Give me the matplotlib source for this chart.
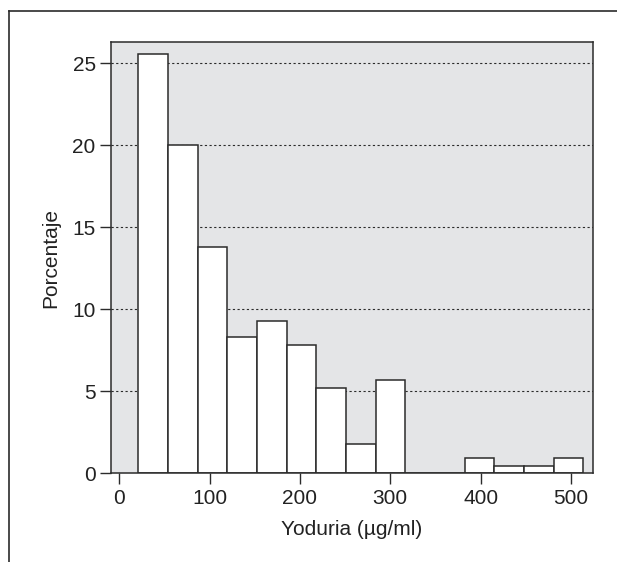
import matplotlib
matplotlib.use("Agg")
import matplotlib.pyplot as plt
from matplotlib.lines import Line2D
import numpy as np

# Histogram data (percent per bin)
bin_edges = np.linspace(21.4, 513.6, 16)
percent = [25.55, 20.0, 13.82, 8.29, 9.27, 7.80, 5.20, 1.79, 5.69,
           0.0, 0.0, 0.95, 0.46, 0.46, 0.95]
x_ticks = [0, 100, 200, 300, 400, 500]
y_ticks = [0, 5, 10, 15, 20, 25]

plt.rcParams["font.family"] = ["Liberation Sans", "DejaVu Sans"]
DARK = "#2b2b2b"

fig = plt.figure(figsize=(6.17, 5.62), dpi=100)
ax = fig.add_axes([0.1799, 0.1578, 0.7807, 0.7680])
ax.set_facecolor("#e4e5e7")

# dashed gridlines behind the bars
for y in y_ticks[1:]:
    ax.axhline(y, color=DARK, lw=0.8, ls=(0, (2, 2.2)), zorder=1)

widths = np.diff(bin_edges)
ax.bar(bin_edges[:-1], percent, width=widths, align="edge",
       facecolor="white", edgecolor=DARK, linewidth=1.1, zorder=2)

ax.set_xlim(-9, 524)
ax.set_ylim(0, 26.32)
ax.set_xticks(x_ticks)
ax.set_yticks(y_ticks)
ax.tick_params(direction="out", length=8, width=1.0, color=DARK,
               labelsize=15, labelcolor="#222222", pad=3)
for s in ax.spines.values():
    s.set_color(DARK)
    s.set_linewidth(1.1)

ax.set_xlabel("Yoduria (µg/ml)", fontsize=15, color="#222222", labelpad=9)
ax.set_ylabel("Porcentaje", fontsize=15, color="#222222", labelpad=9)

# outer frame (left and top edges only visible)
fig.add_artist(Line2D([8.7 / 617, 8.7 / 617], [0, 1 - 10.7 / 562],
                      transform=fig.transFigure, color=DARK, lw=1.2))
fig.add_artist(Line2D([8.7 / 617, 1], [1 - 10.7 / 562, 1 - 10.7 / 562],
                      transform=fig.transFigure, color=DARK, lw=1.2))

fig.savefig("out.png", dpi=100)
